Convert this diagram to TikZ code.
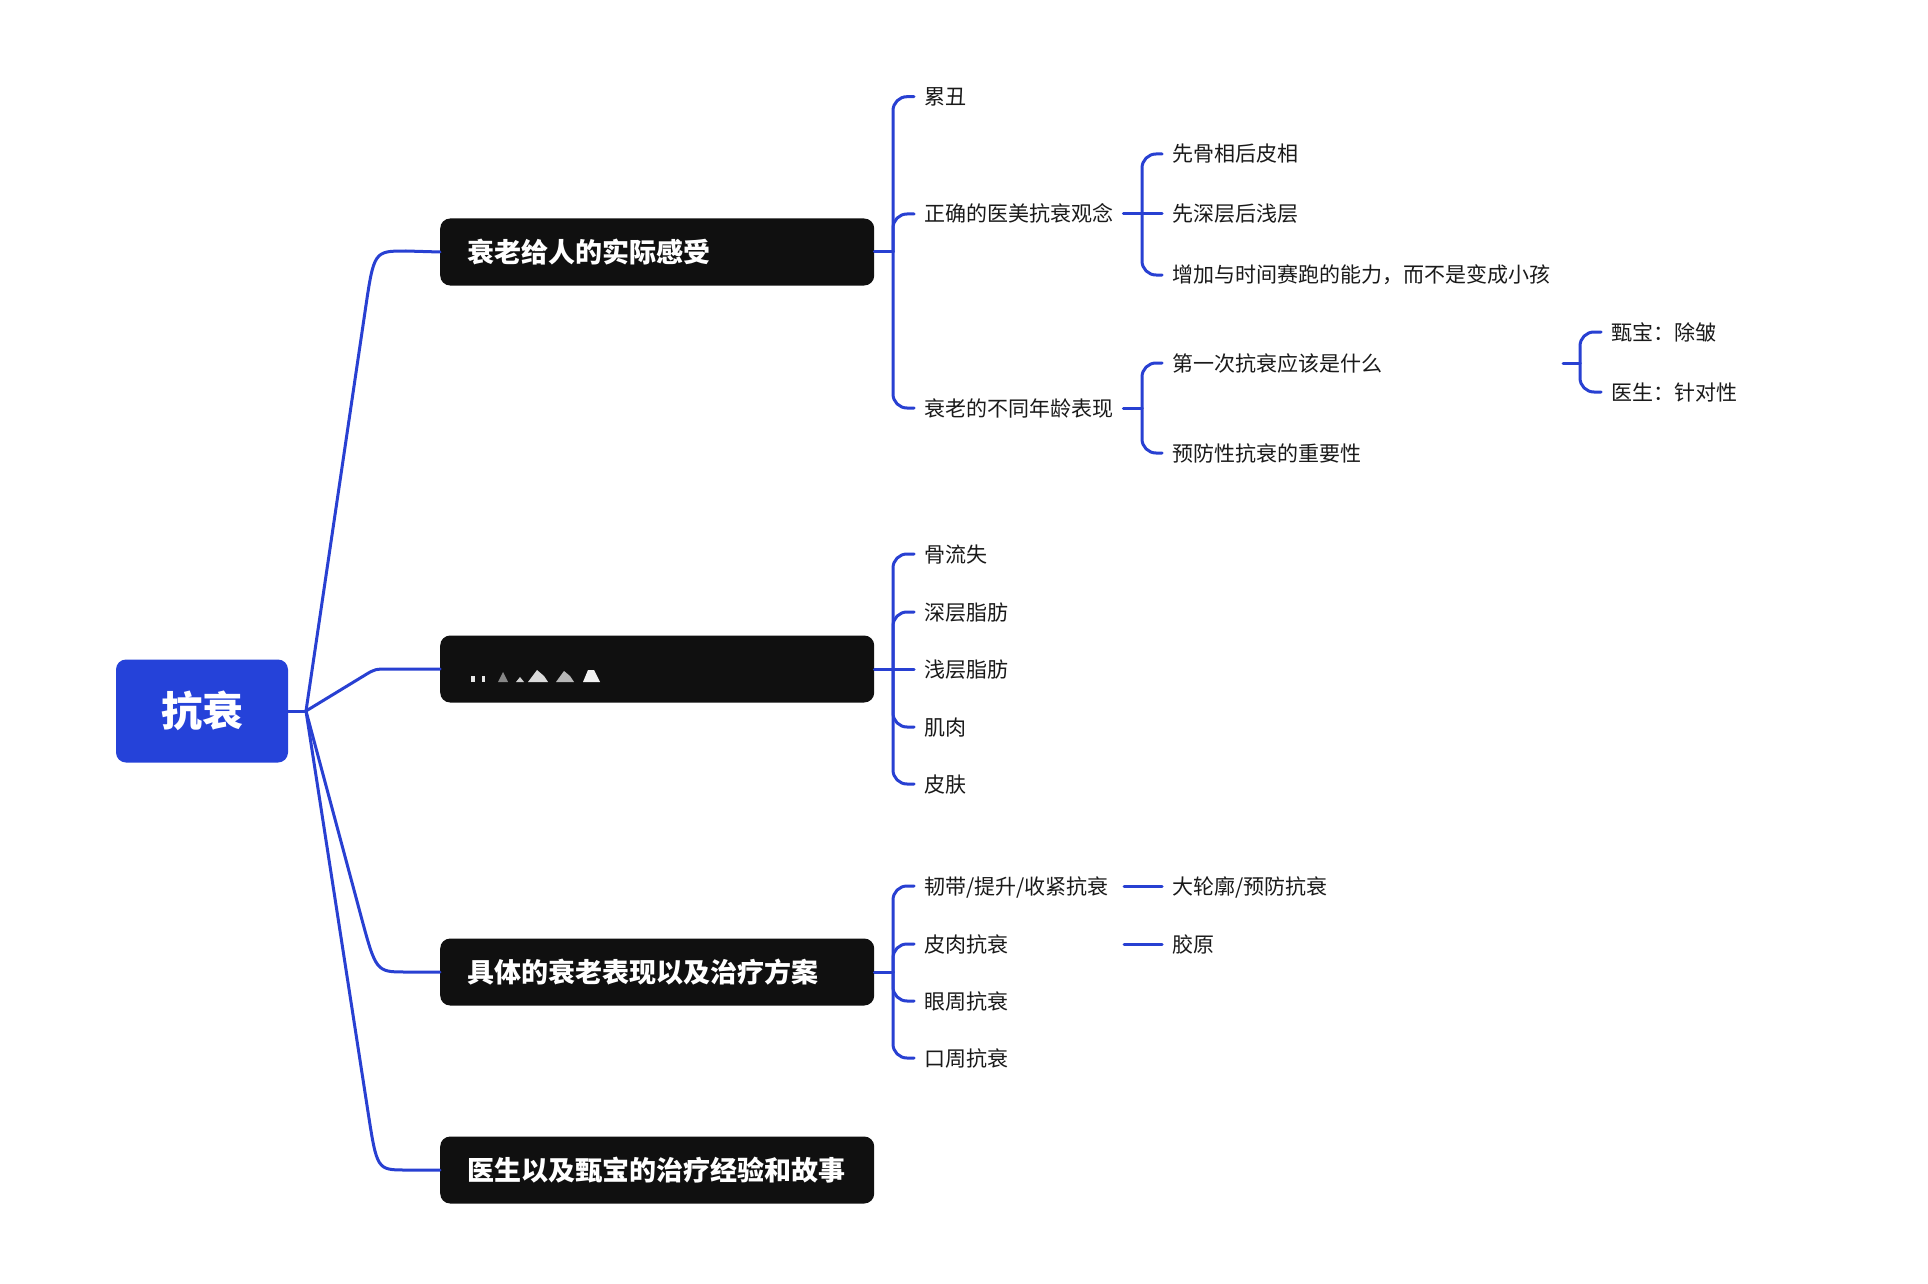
\documentclass[tikz,border=0pt]{standalone}
\usepackage{fontspec}
\newfontfamily\cjk{Noto Sans CJK SC}
\usetikzlibrary{calc}
\definecolor{lineblue}{RGB}{40,64,210}
\definecolor{rootblue}{RGB}{37,66,217}
\definecolor{boxblack}{RGB}{16,16,16}
\definecolor{txt}{RGB}{26,26,26}
\begin{document}
\begin{tikzpicture}[x=1pt,y=-1pt,
  conn/.style={draw=lineblue, line width=3pt, line cap=round, line join=round},
  brk/.style={conn, rounded corners=14pt},
  rootbox/.style={fill=rootblue, rounded corners=10pt, text=white,
    font=\cjk\bfseries\fontsize{41}{48}\selectfont, minimum width=172pt,
    minimum height=103pt, inner sep=0pt, text height=36pt, text depth=5pt},
  topic/.style={fill=boxblack, rounded corners=10pt, text=white, anchor=west,
    font=\cjk\bfseries\fontsize{27}{32}\selectfont, minimum width=434pt,
    minimum height=67pt, inner xsep=27pt, inner ysep=0pt, text width=380pt,
    align=left, text height=23.8pt, text depth=3.2pt},
  leaf/.style={text=txt, anchor=west, font=\cjk\fontsize{21}{25}\selectfont,
    inner xsep=10pt, inner ysep=0pt, text height=18.5pt, text depth=2.5pt}
]
\useasboundingbox (0,0) rectangle (1928,1284);
\fill[white] (0,0) rectangle (1928,1284);

% root and topics
\node[rootbox] (root) at (202,711) {抗衰};
\node[topic] (t1) at (440,252) {衰老给人的实际感受};
\node[topic] (t2) at (440,669) {};
\node[topic] (t3) at (440,972) {具体的衰老表现以及治疗方案};
\node[topic] (t4) at (440,1170) {医生以及甄宝的治疗经验和故事};

% blurred text in second topic
\begin{scope}[fill=white]
  \fill[opacity=0.9] (471,676) rectangle (475,682);
  \fill[opacity=0.9] (482,676) rectangle (485,682);
  \fill[opacity=0.5] (498,682) -- (503,672) -- (508,682) -- cycle;
  \fill[opacity=0.8] (516,682) -- (520,677) -- (524,682) -- cycle;
  \fill[opacity=0.85] (528,682) -- (537,670) -- (544,676) -- (548,682) -- cycle;
  \fill[opacity=0.7] (556,682) -- (564,671) -- (570,676) -- (574,682) -- cycle;
  \fill[opacity=0.95] (583,682) -- (588,670) -- (594,670) -- (600,682) -- cycle;
\end{scope}

% root connectors
\coordinate (J) at (306,711);
\draw[conn] (root.east) -- (J);
\draw[conn] (J) -- ($(374,251)!60pt!(J)$) .. controls (374,251) .. (406,251) -- (t1.west);
\draw[conn] (J) -- ($(375,669)!12pt!(J)$) .. controls (375,669) .. (390,669) -- (t2.west);
\draw[conn] (J) -- ($(376,972)!60pt!(J)$) .. controls (376,972) .. (406,972) -- (t3.west);
\draw[conn] (J) -- ($(377,1170)!60pt!(J)$) .. controls (377,1170) .. (406,1170) -- (t4.west);

% group 1
\node[leaf] (a1) at (914,96.7) {累丑};
\node[leaf] (a2) at (914,214) {正确的医美抗衰观念};
\node[leaf] (a3) at (914,408) {衰老的不同年龄表现};
\coordinate (b1) at (893,252);
\draw[conn] (t1.east) -- (b1);
\draw[brk] (b1) |- (a1.west);
\draw[brk] (b1) |- (a2.west);
\draw[brk] (b1) |- (a3.west);

\node[leaf] (a21) at (1162,154) {先骨相后皮相};
\node[leaf] (a22) at (1162,214) {先深层后浅层};
\node[leaf] (a23) at (1162,275) {增加与时间赛跑的能力，而不是变成小孩};
\coordinate (b2) at (1142,214);
\draw[conn] (a2.east) -- (b2);
\draw[brk] (b2) |- (a21.west);
\draw[conn] (b2) -- (a22.west);
\draw[brk] (b2) |- (a23.west);

\node[leaf] (a31) at (1162,363) {第一次抗衰应该是什么};
\node[leaf] (a32) at (1162,453) {预防性抗衰的重要性};
\coordinate (b3) at (1142,408);
\draw[conn] (a3.east) -- (b3);
\draw[brk] (b3) |- (a31.west);
\draw[brk] (b3) |- (a32.west);

\node[leaf] (a311) at (1601,332) {甄宝：除皱};
\node[leaf] (a312) at (1601,392) {医生：针对性};
\coordinate (s31) at (1563,363);
\coordinate (b31) at (1580,363);
\draw[conn] (s31) -- (b31);
\draw[brk] (b31) |- (a311.west);
\draw[brk] (b31) |- (a312.west);

% group 2
\node[leaf] (c1) at (914,554) {骨流失};
\node[leaf] (c2) at (914,612) {深层脂肪};
\node[leaf] (c3) at (914,669) {浅层脂肪};
\node[leaf] (c4) at (914,727) {肌肉};
\node[leaf] (c5) at (914,784) {皮肤};
\coordinate (bc) at (893,669);
\draw[conn] (t2.east) -- (bc);
\draw[brk] (bc) |- (c1.west);
\draw[brk] (bc) |- (c2.west);
\draw[conn] (bc) -- (c3.west);
\draw[brk] (bc) |- (c4.west);
\draw[brk] (bc) |- (c5.west);

% group 3
\node[leaf] (d1) at (914,886) {韧带/提升/收紧抗衰};
\node[leaf] (d2) at (914,944) {皮肉抗衰};
\node[leaf] (d3) at (914,1001) {眼周抗衰};
\node[leaf] (d4) at (914,1058) {口周抗衰};
\coordinate (bd) at (893,972);
\draw[conn] (t3.east) -- (bd);
\draw[brk] (bd) |- (d1.west);
\draw[brk] (bd) |- (d2.west);
\draw[brk] (bd) |- (d3.west);
\draw[brk] (bd) |- (d4.west);

\node[leaf] (d11) at (1162,886) {大轮廓/预防抗衰};
\node[leaf] (d21) at (1162,944) {胶原};
\coordinate (sd1) at (1124,886);
\coordinate (sd2) at (1124,944);
\draw[conn] (sd1) -- (d11.west);
\draw[conn] (sd2) -- (d21.west);
\end{tikzpicture}
\end{document}
